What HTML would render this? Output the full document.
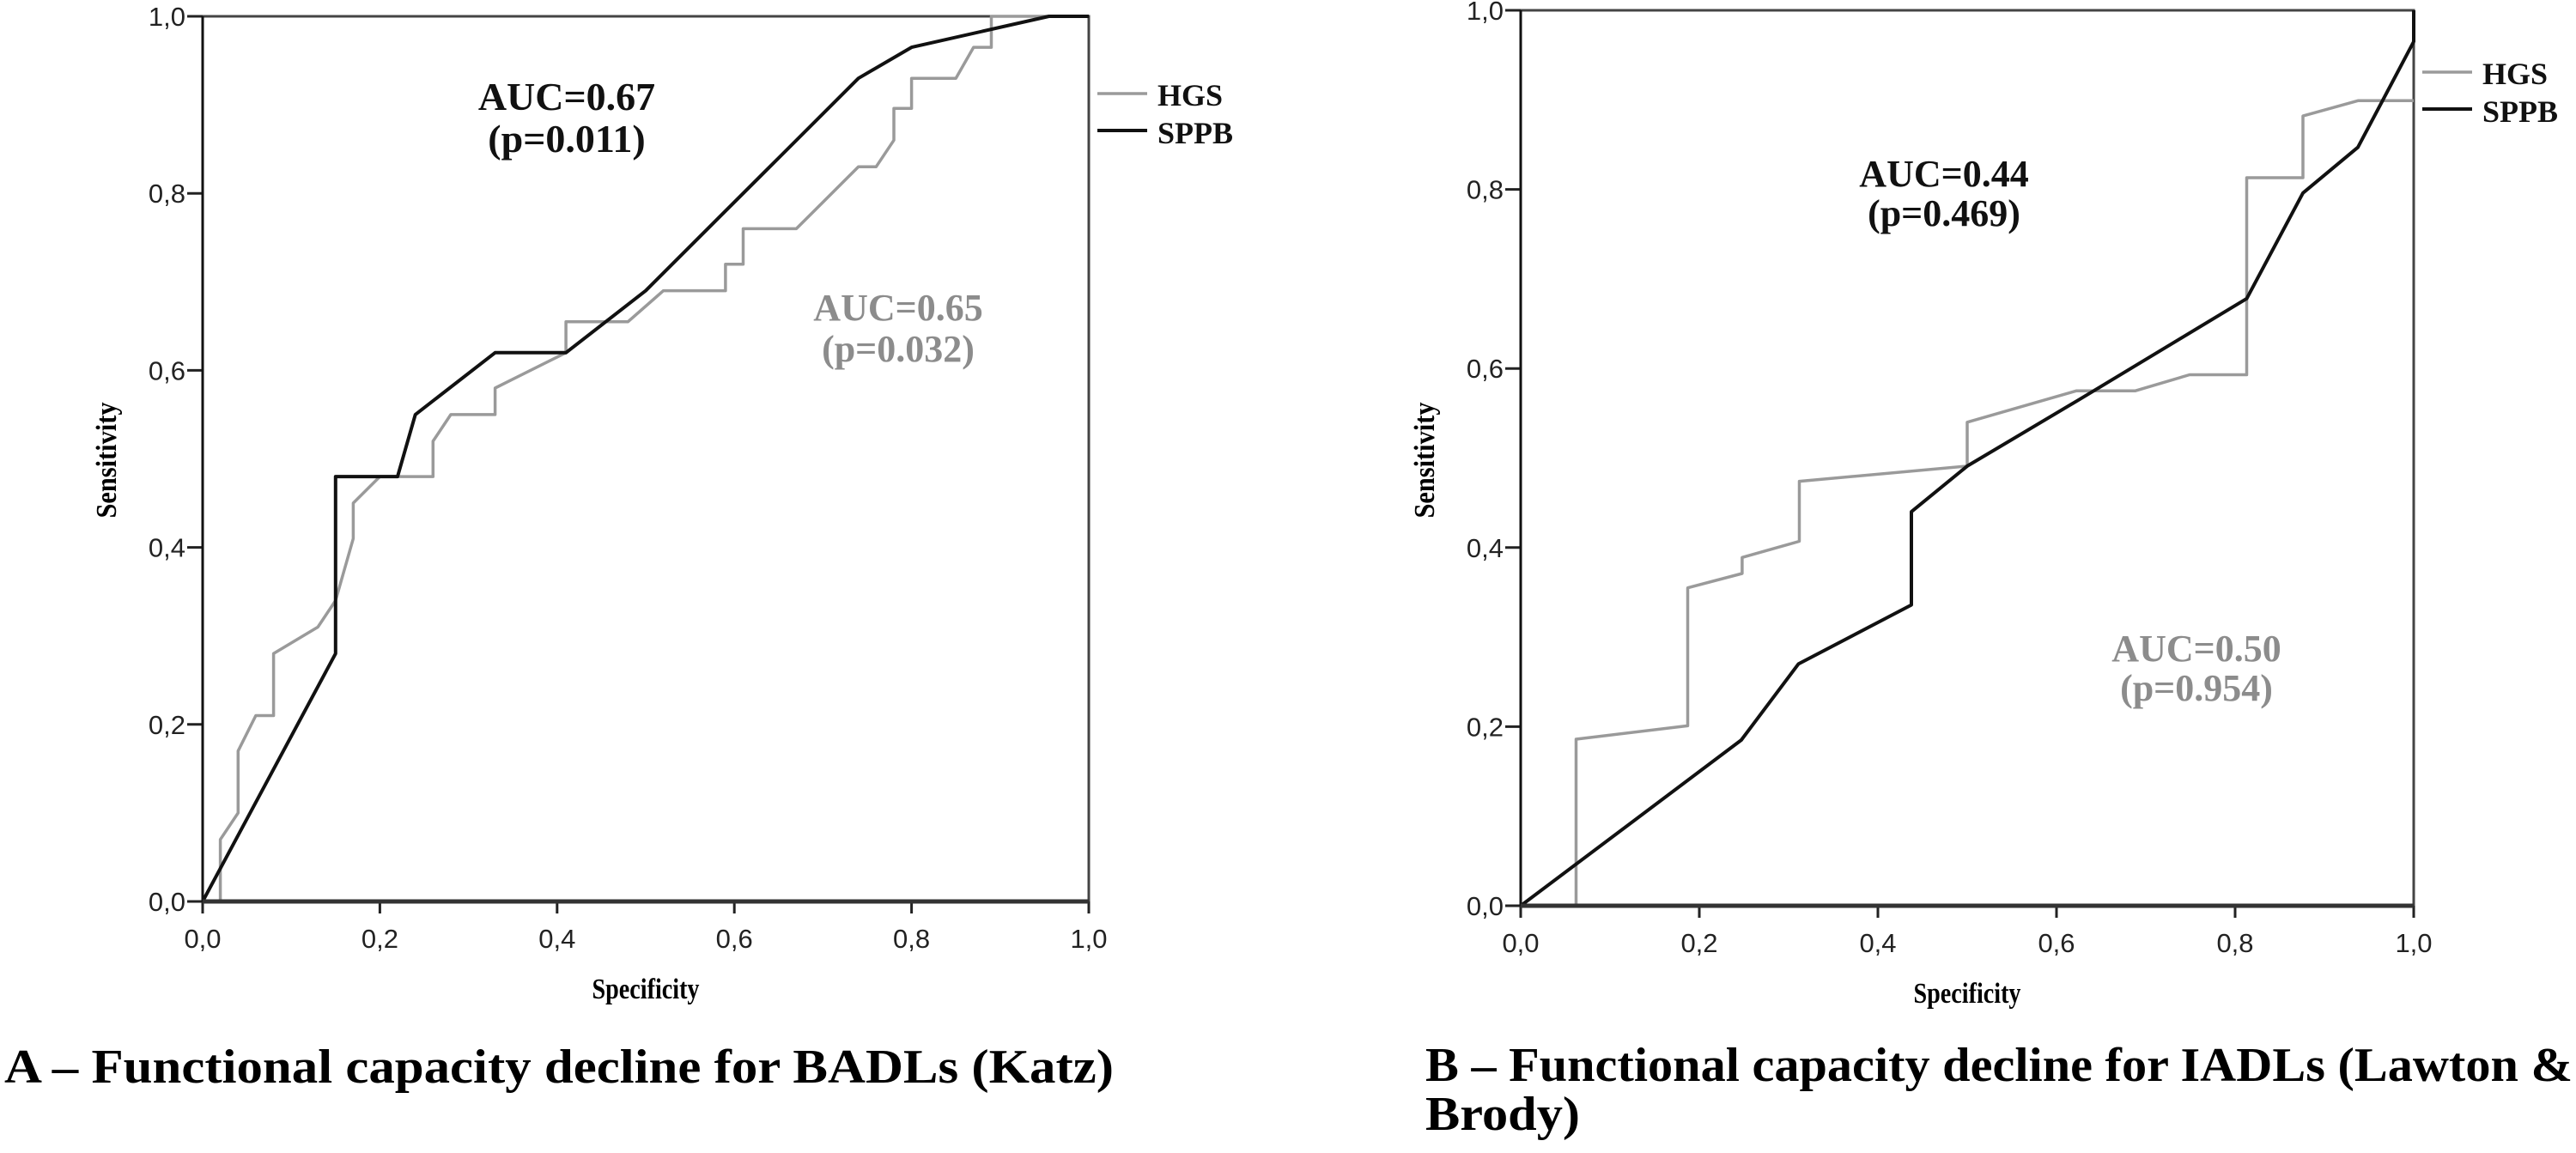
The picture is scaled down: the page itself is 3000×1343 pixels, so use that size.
<!DOCTYPE html>
<html><head><meta charset="utf-8">
<style>
html,body{margin:0;padding:0;background:#fff;}
svg{display:block;}
text{font-family:"Liberation Serif",serif;}
.tick{font-family:"Liberation Sans Narrow","Liberation Sans",sans-serif;font-size:31px;fill:#222;}
</style></head>
<body>
<svg id="chart" width="3000" height="1343" viewBox="0 0 3000 1343" xmlns="http://www.w3.org/2000/svg">
<g id="panelA"></g>
<g id="panelB"></g>
<text x="5" y="1261" font-size="56" font-weight="bold" textLength="1292" lengthAdjust="spacingAndGlyphs">A – Functional capacity decline for BADLs (Katz)</text>
<text x="1660" y="1259" font-size="56" font-weight="bold" textLength="1336" lengthAdjust="spacingAndGlyphs">B – Functional capacity decline for IADLs (Lawton &amp;</text>
<text x="1660" y="1316" font-size="56" font-weight="bold" textLength="180" lengthAdjust="spacingAndGlyphs">Brody)</text>
</svg>
<script>
// Panel A data (specificity axis as plotted, sensitivity)
const aHgsX = [0.02,0.02,0.04,0.04,0.06,0.08,0.08,0.13,0.15,0.17,0.17,0.20,0.26,0.26,0.28,0.33,0.33,0.35,0.41,0.41,0.48,0.52,0.59,0.59,0.61,0.61,0.67,0.70,0.74,0.76,0.78,0.78,0.80,0.80,0.85,0.87,0.89,0.89,1.0];
const aHgsY = [0,0.07,0.10,0.17,0.21,0.21,0.28,0.31,0.34,0.41,0.45,0.48,0.48,0.52,0.55,0.55,0.58,0.59,0.62,0.655,0.655,0.69,0.69,0.72,0.72,0.76,0.76,0.79,0.83,0.83,0.86,0.896,0.896,0.93,0.93,0.965,0.965,1.0,1.0];
const aSppbX = [0,0.15,0.15,0.22,0.24,0.33,0.41,0.50,0.57,0.65,0.74,0.80,0.955,1.0];
const aSppbY = [0,0.28,0.48,0.48,0.55,0.62,0.62,0.69,0.76,0.84,0.93,0.965,1.0,1.0];
// Panel B data
const bHgsX = [0.062,0.062,0.187,0.187,0.248,0.248,0.312,0.312,0.50,0.50,0.622,0.688,0.749,0.813,0.813,0.876,0.876,0.9375,1.0];
const bHgsY = [0,0.186,0.201,0.355,0.371,0.389,0.407,0.474,0.491,0.54,0.575,0.575,0.593,0.593,0.813,0.813,0.882,0.899,0.899];
const bSppbX = [0,0.247,0.311,0.4375,0.4375,0.50,0.625,0.813,0.876,0.9375,1.0,1.0];
const bSppbY = [0,0.185,0.270,0.336,0.44,0.491,0.565,0.678,0.796,0.847,0.965,1.0];
const tickVals = [0,0.2,0.4,0.6,0.8,1.0];
const tickLabels = ["0,0","0,2","0,4","0,6","0,8","1,0"];

const NS = "http://www.w3.org/2000/svg";
function mk(parent, tag, attrs, txt){
  const e = document.createElementNS(NS, tag);
  for (const k in attrs) e.setAttribute(k, attrs[k]);
  if (txt !== undefined) e.textContent = txt;
  parent.appendChild(e);
  return e;
}

function panel(g, cfg){
  const xs = v => cfg.x0 + v*(cfg.x1-cfg.x0);
  const ys = v => cfg.y0 - v*(cfg.y0-cfg.y1);
  const fr = mk(g,'rect',{x:cfg.x0,y:cfg.y1,width:cfg.x1-cfg.x0,height:cfg.y0-cfg.y1,fill:'none',stroke:'#444','stroke-width':3});
  
  
  tickVals.forEach((v,i)=>{
    const ty = mk(g,'line',{x1:cfg.x0-18,x2:cfg.x0,y1:ys(v),y2:ys(v),stroke:'#222','stroke-width':3});
    
    
    const ly = mk(g,'text',{x:cfg.x0-20,y:ys(v)+11,'text-anchor':'end','class':'tick'},tickLabels[i]);
    
    
    const tx = mk(g,'line',{x1:xs(v),x2:xs(v),y1:cfg.y0,y2:cfg.y0+14,stroke:'#222','stroke-width':3});
    
    
    const lx = mk(g,'text',{x:xs(v),y:cfg.y0+54,'text-anchor':'middle','class':'tick'},tickLabels[i]);
    
    
  });
  function series(X,Y,color,w,name){
    let d='';
    X.forEach((x,i)=>{ d += (i?'L':'M')+xs(x).toFixed(1)+','+ys(Y[i]).toFixed(1)+' '; });
    const p = mk(g,'path',{d:d,fill:'none',stroke:color,'stroke-width':w,'stroke-linejoin':'round'});
    
    
  }
  series(cfg.hx,cfg.hy,'#9a9a9a',3.5,'hgs-roc-curve');
  series(cfg.sx,cfg.sy,'#111',4,'sppb-roc-curve');
  mk(g,'line',{x1:cfg.x0,x2:cfg.x0,y1:cfg.y0,y2:cfg.y1,stroke:'#111','stroke-width':3});
  mk(g,'line',{x1:cfg.x0,x2:cfg.x1,y1:cfg.y0,y2:cfg.y0,stroke:'#333','stroke-width':5});
  const xt = mk(g,'text',{x:(cfg.x0+cfg.x1)/2+cfg.xtOff,y:cfg.y0+113,'text-anchor':'middle','font-size':34,'font-weight':'bold',textLength:125,lengthAdjust:'spacingAndGlyphs'},'Specificity');
  
  
  const yt = mk(g,'text',{x:0,y:0,'text-anchor':'middle','font-size':34,'font-weight':'bold',textLength:135,lengthAdjust:'spacingAndGlyphs',transform:`translate(${cfg.ytx},536) rotate(-90)`},'Sensitivity');
  
  
  const lx0 = cfg.x1+10;
  mk(g,'line',{x1:lx0,x2:lx0+58,y1:cfg.legY,y2:cfg.legY,stroke:'#9a9a9a','stroke-width':3.5});
  const l1 = mk(g,'text',{x:lx0+70,y:cfg.legY+14,'font-size':36,'font-weight':'bold',fill:'#111'},'HGS');
  
  
  mk(g,'line',{x1:lx0,x2:lx0+58,y1:cfg.legY+43,y2:cfg.legY+43,stroke:'#111','stroke-width':4});
  const l2 = mk(g,'text',{x:lx0+70,y:cfg.legY+58,'font-size':36,'font-weight':'bold',fill:'#111'},'SPPB');
  
  
  cfg.notes.forEach(n=>{
    const t = mk(g,'text',{x:n.x,y:n.y,'text-anchor':'middle','font-size':n.fs||44,'font-weight':'bold',fill:n.c},n.t);
    
    
  });
}

panel(document.getElementById('panelA'),{x0:236,x1:1268,y0:1050,y1:19,hx:aHgsX,hy:aHgsY,sx:aSppbX,sy:aSppbY,xtOff:0,ytx:135,legY:109,
  notes:[{x:660,y:128,t:'AUC=0.67',c:'#111',name:'sppb-auc-label',fs:46},{x:660,y:177,t:'(p=0.011)',c:'#111',name:'sppb-p-label',fs:46},
         {x:1046,y:373,t:'AUC=0.65',c:'#8c8c8c',name:'hgs-auc-label'},{x:1046,y:421,t:'(p=0.032)',c:'#8c8c8c',name:'hgs-p-label'}]});
panel(document.getElementById('panelB'),{x0:1771,x1:2811,y0:1055,y1:12,hx:bHgsX,hy:bHgsY,sx:bSppbX,sy:bSppbY,xtOff:0,ytx:1670,legY:84,
  notes:[{x:2264,y:217,t:'AUC=0.44',c:'#111',name:'sppb-auc-label'},{x:2264,y:263,t:'(p=0.469)',c:'#111',name:'sppb-p-label'},
         {x:2558,y:770,t:'AUC=0.50',c:'#8c8c8c',name:'hgs-auc-label'},{x:2558,y:816,t:'(p=0.954)',c:'#8c8c8c',name:'hgs-p-label'}]});
</script>
</body></html>
